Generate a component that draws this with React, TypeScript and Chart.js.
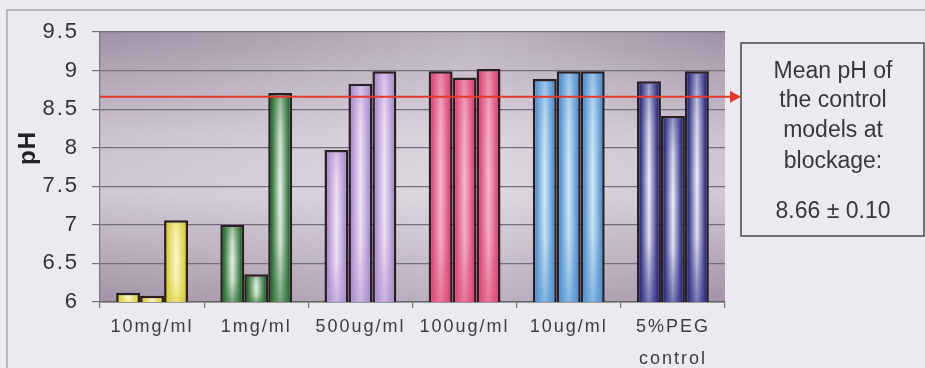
import React, { useEffect, useRef } from 'react';
import { Chart, registerables } from 'chart.js';

Chart.register(...registerables);

// ---------- data ----------
const categories: (string | string[])[] = ['10mg/ml', '1mg/ml', '500ug/ml', '100ug/ml', '10ug/ml', ['5%PEG', 'control']];
const sample1 = [6.12, 7.0, 7.97, 8.99, 8.89, 8.86];
const sample2 = [6.08, 6.36, 8.83, 8.91, 8.99, 8.41];
const sample3 = [7.06, 8.71, 8.99, 9.02, 8.99, 8.99];
const yTickValues = [6, 6.5, 7, 7.5, 8, 8.5, 9, 9.5];
const controlMean = 8.66;
const controlSD = 0.1;
const noteLines = ['Mean pH of', 'the control', 'models at', 'blockage:'];
const edgeColors = ['#ddd23c', '#2a7032', '#ae92d2', '#de4a76', '#5494d2', '#2f2f86'];
const lightColors = ['#fbf8d6', '#eaf5ea', '#f2e8f6', '#f4bcd2', '#d4eaf6', '#f0f0fa'];

const CAT_PCT = 0.69;
const FONT = "'Liberation Sans', Arial, sans-serif";

function rgba(hex: string, a: number) {
  const n = parseInt(hex.slice(1), 16);
  return `rgba(${(n >> 16) & 255},${(n >> 8) & 255},${n & 255},${a})`;
}

function barFill(c: any) {
  const i = c.dataIndex ?? 0;
  const edge = edgeColors[i];
  const light = lightColors[i];
  const chart = c.chart;
  const xs = chart.scales?.x;
  const ys = chart.scales?.y;
  if (!chart.chartArea || !xs || !ys || c.type !== 'data') return edge;
  const n = categories.length;
  const cat = (xs.right - xs.left) / n;
  const group = cat * CAT_PCT;
  const bw = group / 3;
  const cx = xs.getPixelForValue(i);
  const left = cx - group / 2 + c.datasetIndex * bw;
  const top = ys.getPixelForValue(c.raw);
  const bottom = ys.getPixelForValue(ys.min);
  const w = Math.max(2, Math.ceil(bw));
  const h = Math.max(2, Math.ceil(bottom - top));
  const off = document.createElement('canvas');
  off.width = w;
  off.height = h;
  const o = off.getContext('2d')!;
  const hg = o.createLinearGradient(0, 0, w, 0);
  hg.addColorStop(0, edge);
  hg.addColorStop(0.14, edge);
  hg.addColorStop(0.5, light);
  hg.addColorStop(0.86, edge);
  hg.addColorStop(1, edge);
  o.fillStyle = hg;
  o.fillRect(0, 0, w, h);
  const vg = o.createLinearGradient(0, 0, 0, h);
  vg.addColorStop(0, rgba(edge, 0.45));
  vg.addColorStop(0.2, rgba(edge, 0.12));
  vg.addColorStop(0.45, rgba(edge, 0));
  vg.addColorStop(0.72, rgba(edge, 0.08));
  vg.addColorStop(1, rgba(edge, 0.6));
  o.fillStyle = vg;
  o.fillRect(0, 0, w, h);
  const pat = chart.ctx.createPattern(off, 'repeat');
  if (!pat) return edge;
  pat.setTransform(new DOMMatrix([1, 0, 0, 1, left, top]));
  return pat;
}

const bgPlugin = {
  id: 'bgPlugin',
  beforeDraw(chart: any) {
    const { ctx, chartArea: a, width, height } = chart;
    ctx.save();
    ctx.fillStyle = '#ebeaf1';
    ctx.fillRect(0, 0, width, height);
    ctx.strokeStyle = '#a9a8b2';
    ctx.lineWidth = 1.5;
    ctx.beginPath();
    ctx.moveTo(7, height);
    ctx.lineTo(7, 10);
    ctx.lineTo(width, 10);
    ctx.stroke();
    const g = ctx.createLinearGradient(0, a.top, 0, a.bottom);
    g.addColorStop(0, '#a092a5');
    g.addColorStop(0.38, '#cbc2cf');
    g.addColorStop(0.6, '#d0c8d4');
    g.addColorStop(1, '#a393a6');
    ctx.fillStyle = g;
    ctx.fillRect(a.left, a.top, a.right - a.left, a.bottom - a.top);
    const hgr = ctx.createLinearGradient(a.left, 0, a.right, 0);
    hgr.addColorStop(0, 'rgba(255,255,255,0)');
    hgr.addColorStop(0.6, 'rgba(255,255,255,0.3)');
    hgr.addColorStop(1, 'rgba(255,255,255,0)');
    ctx.fillStyle = hgr;
    ctx.fillRect(a.left, a.top, a.right - a.left, a.bottom - a.top);
    ctx.restore();
    ctx.letterSpacing = '2px';
  },
  afterDatasetsDraw(chart: any) {
    const { ctx, chartArea: a } = chart;
    const y = chart.scales.y.getPixelForValue(controlMean);
    ctx.save();
    ctx.strokeStyle = '#e5392b';
    ctx.fillStyle = '#e5392b';
    ctx.lineWidth = 2;
    ctx.beginPath();
    ctx.moveTo(a.left, y);
    ctx.lineTo(733, y);
    ctx.stroke();
    ctx.beginPath();
    ctx.moveTo(741, y);
    ctx.lineTo(730, y - 6);
    ctx.lineTo(730, y + 6);
    ctx.closePath();
    ctx.fill();
    ctx.restore();
  },
  afterDraw(chart: any) {
    const { ctx } = chart;
    ctx.save();
    ctx.letterSpacing = '0px';
    ctx.strokeStyle = '#4a4a4a';
    ctx.lineWidth = 1.5;
    ctx.strokeRect(741, 43, 183, 193);
    ctx.fillStyle = '#383838';
    ctx.font = `23px ${FONT}`;
    ctx.textAlign = 'center';
    ctx.textBaseline = 'middle';
    const ys = [72, 101, 131, 162];
    noteLines.forEach((t, k) => ctx.fillText(t, 833, ys[k]));
    ctx.fillText(`${controlMean.toFixed(2)} \u00b1 ${controlSD.toFixed(2)}`, 833, 212);
    // y-axis title
    ctx.translate(28, 148);
    ctx.rotate(-Math.PI / 2);
    ctx.font = `bold 24px ${FONT}`;
    ctx.fillStyle = '#222';
    ctx.letterSpacing = '1px';
    ctx.fillText('pH', 0, 0);
    ctx.restore();
  },
};

export default function App() {
  const ref = useRef<HTMLCanvasElement>(null);
  useEffect(() => {
    if (!ref.current) return;
    const mk = (label: string, data: number[]) => ({
      label,
      data,
      backgroundColor: barFill,
      borderColor: '#2a2024',
      borderWidth: 2.5,
      borderSkipped: false as const,
      categoryPercentage: CAT_PCT,
      barPercentage: 1,
    });
    const chart = new Chart(ref.current, {
      type: 'bar',
      data: {
        labels: categories,
        datasets: [mk('Sample 1', sample1), mk('Sample 2', sample2), mk('Sample 3', sample3)],
      },
      options: {
        animation: false,
        responsive: false,
        devicePixelRatio: 1,
        layout: { padding: { top: 32, right: 200, left: 0, bottom: 0 } },
        plugins: { legend: { display: false }, tooltip: { enabled: false } },
        scales: {
          x: {
            afterFit: (s: any) => { s.height = 66; },
            grid: { drawOnChartArea: false, offset: true, tickLength: 6, color: '#777', lineWidth: 1.2 },
            border: { display: true, color: '#666', width: 1.5 },
            ticks: {
              autoSkip: false,
              maxRotation: 0,
              padding: 3,
              color: '#3c3c3c',
              font: { family: FONT, size: 18, lineHeight: 1.78 },
            },
          },
          y: {
            min: 6,
            max: 9.5,
            afterFit: (s: any) => { s.width = 100; },
            afterBuildTicks: (s: any) => { s.ticks = yTickValues.map((v) => ({ value: v })); },
            grid: { color: '#736e7c', lineWidth: 1.2, tickLength: 8 },
            border: { display: true, color: '#7a7682', width: 1.2 },
            ticks: {
              padding: 13,
              color: '#333',
              font: { family: FONT, size: 22 },
              callback: (v: any) => String(v),
            },
          },
        },
      },
      plugins: [bgPlugin],
    });
    return () => chart.destroy();
  }, []);
  return (
    <div style={{ position: 'absolute', left: 0, top: 0, width: 925, height: 368 }}>
      <canvas ref={ref} width={925} height={368} style={{ width: 925, height: 368 }} />
    </div>
  );
}
